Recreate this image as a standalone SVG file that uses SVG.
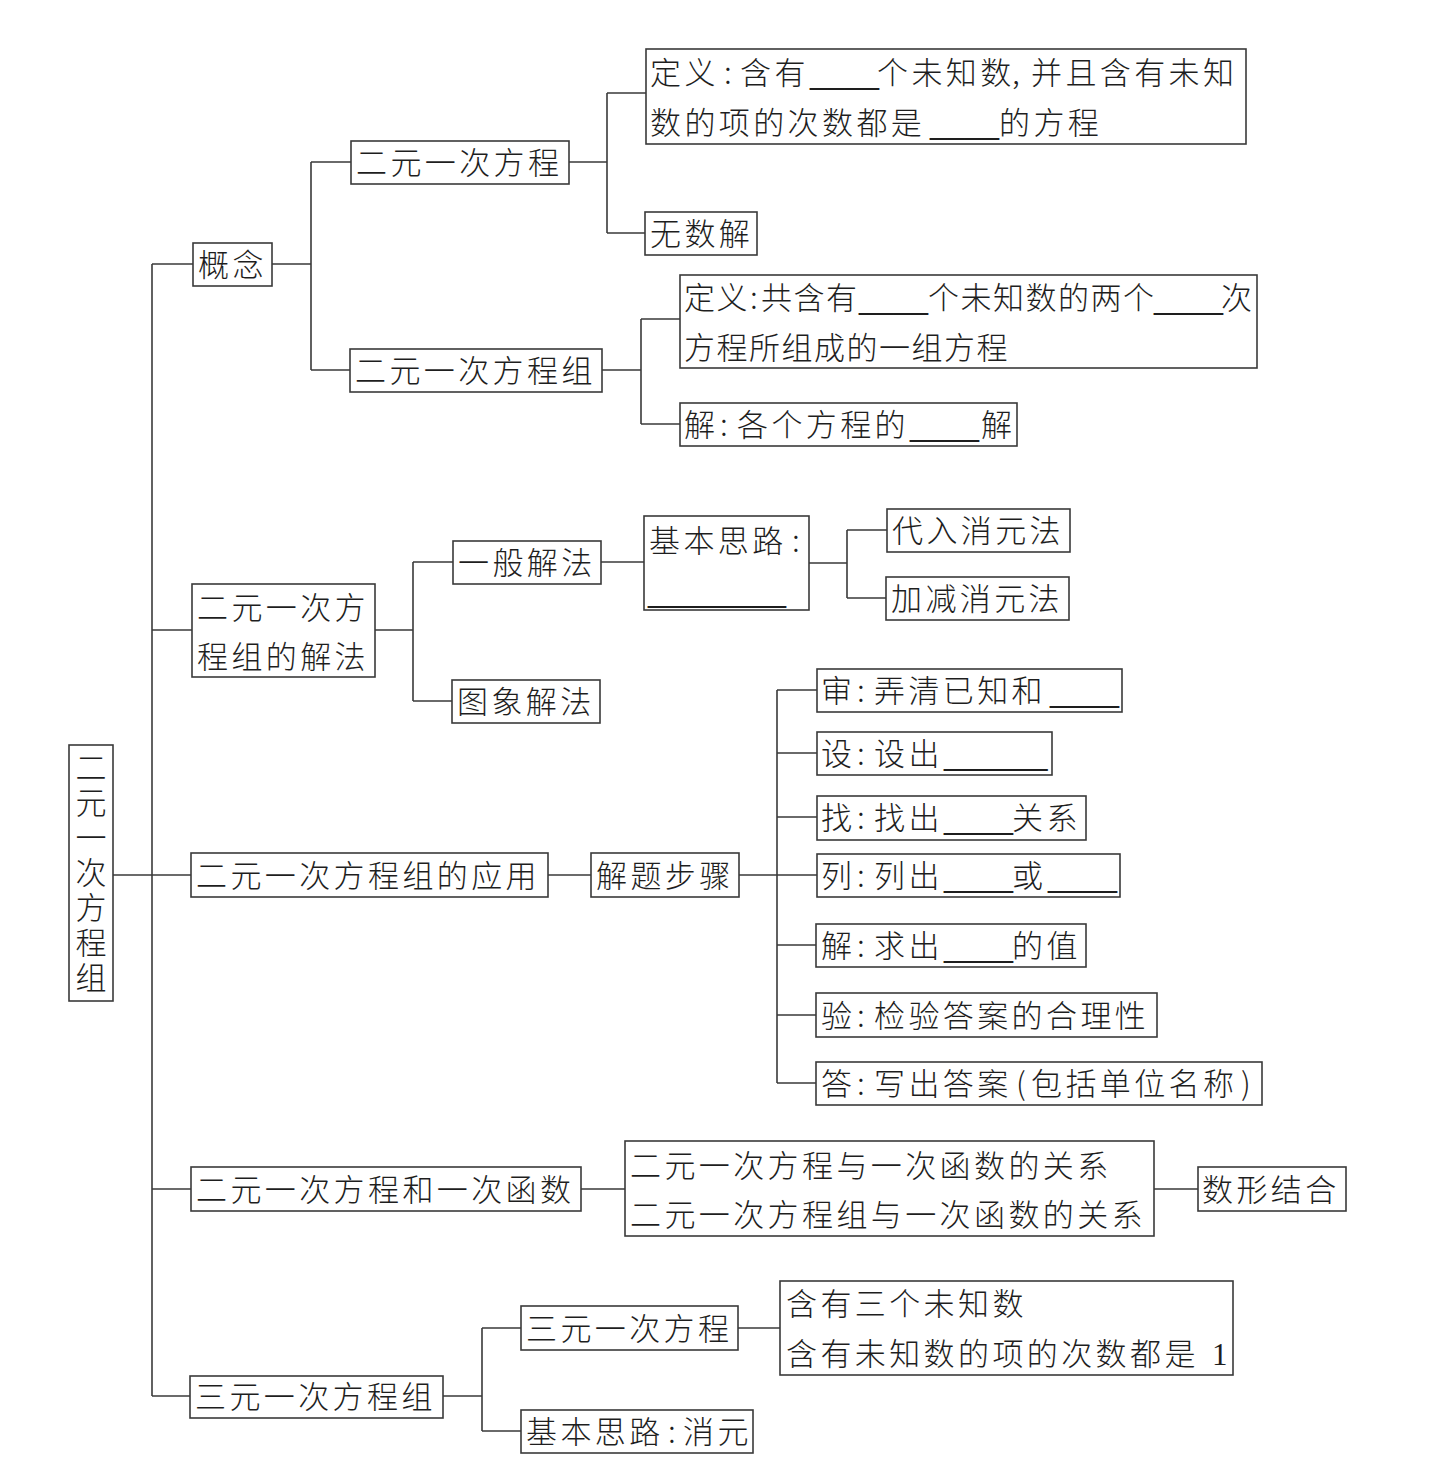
<svg xmlns="http://www.w3.org/2000/svg" width="1447" height="1472" viewBox="0 0 1447 1472">
<style>
.b{fill:#fff;stroke:#3a3a3a;stroke-width:1.6}
.t{font-family:"Noto Sans CJK SC","Noto Sans CJK JP",sans-serif;font-size:31px;font-weight:300;letter-spacing:3.4px;fill:#1e1e1e}
.n{letter-spacing:1.5px}
.u{font-family:"Liberation Sans",sans-serif;letter-spacing:0}
.s{font-family:"Liberation Serif",serif;letter-spacing:0}
.v{writing-mode:vertical-rl;letter-spacing:4px}
.c path{fill:none;stroke:#3a3a3a;stroke-width:1.6}
</style>
<rect width="1447" height="1472" fill="#fff"/>
<g class="c" id="connectors">
<path d="M113,875 H191"/>
<path d="M152,264 V1396"/>
<path d="M152,264 H193"/>
<path d="M152,630 H192"/>
<path d="M152,1189 H191"/>
<path d="M152,1396 H190"/>
<path d="M272,264 H311 M311,162 V370 M311,162 H351 M311,370 H350"/>
<path d="M569,162 H607 M607,93 V233 M607,93 H646 M607,233 H645"/>
<path d="M602,370 H641 M641,319 V424 M641,319 H680 M641,424 H680"/>
<path d="M375,630 H413 M413,562 V701 M413,562 H453 M413,701 H452"/>
<path d="M601,562 H644"/>
<path d="M809,563 H847 M847,530 V598 M847,530 H887 M847,598 H886"/>
<path d="M548,875 H591"/>
<path d="M739,875 H777 M777,690 V1083 M777,690 H817 M777,753 H817 M777,817 H817 M777,875 H817 M777,945 H816 M777,1015 H816 M777,1083 H816"/>
<path d="M581,1189 H625 M1154,1189 H1198"/>
<path d="M443,1396 H482 M482,1328 V1431 M482,1328 H521 M482,1431 H521"/>
<path d="M738,1328 H780"/>
</g>

<g id="root"><rect class="b" x="69" y="745" width="44" height="256"/>
<text class="t v" x="91" y="752">二元一次方程组</text></g>

<g id="n-gainian"><rect class="b" x="193" y="243" width="79" height="43"/><text class="t" x="198" y="276">概念</text></g>
<g id="n-jiefa"><rect class="b" x="192" y="584" width="183" height="93"/><text class="t"><tspan x="197" y="619">二元一次方</tspan><tspan x="197" y="668">程组的解法</tspan></text></g>
<g id="n-yingyong"><rect class="b" x="191" y="853" width="357" height="44"/><text class="t" x="196" y="887">二元一次方程组的应用</text></g>
<g id="n-hanshu"><rect class="b" x="191" y="1167" width="390" height="44"/><text class="t" x="196" y="1201">二元一次方程和一次函数</text></g>
<g id="n-sanyuan"><rect class="b" x="190" y="1376" width="253" height="42"/><text class="t" x="195" y="1408">三元一次方程组</text></g>

<g id="n-fangcheng"><rect class="b" x="351" y="141" width="218" height="43"/><text class="t" x="356" y="174">二元一次方程</text></g>
<g id="n-fangchengzu"><rect class="b" x="350" y="349" width="252" height="43"/><text class="t" x="355" y="382">二元一次方程组</text></g>

<g id="n-def1"><rect class="b" x="646" y="49" width="600" height="95"/>
<text class="t" y="84"><tspan x="650">定义</tspan><tspan x="724">:</tspan><tspan x="740">含有</tspan><tspan class="u" x="810">____</tspan><tspan x="877">个未知数</tspan><tspan x="1012">,</tspan><tspan x="1031">并且含有未知</tspan></text>
<text class="t" y="134"><tspan x="650">数的项的次数都是</tspan><tspan class="u" x="930">____</tspan><tspan x="999">的方程</tspan></text></g>
<g id="n-wushujie"><rect class="b" x="645" y="212" width="112" height="43"/><text class="t" x="650" y="245">无数解</text></g>

<g id="n-def2"><rect class="b" x="680" y="275" width="577" height="93"/>
<text class="t n" y="309"><tspan x="684">定义</tspan><tspan x="750">:</tspan><tspan x="761">共含有</tspan><tspan class="u" x="859">____</tspan><tspan x="928">个未知数的两个</tspan><tspan class="u" x="1154">____</tspan><tspan x="1221">次</tspan></text>
<text class="t n" x="684" y="359">方程所组成的一组方程</text></g>
<g id="n-jie"><rect class="b" x="680" y="403" width="337" height="43"/>
<text class="t" y="436"><tspan x="684">解</tspan><tspan x="720">:</tspan><tspan x="737">各个方程的</tspan><tspan class="u" x="910">____</tspan><tspan x="981">解</tspan></text></g>

<g id="n-yiban"><rect class="b" x="453" y="541" width="148" height="43"/><text class="t" x="458" y="574">一般解法</text></g>
<g id="n-tuxiang"><rect class="b" x="452" y="680" width="148" height="43"/><text class="t" x="457" y="713">图象解法</text></g>
<g id="n-silu"><rect class="b" x="644" y="516" width="165" height="94"/>
<text class="t" y="552"><tspan x="649">基本思路</tspan><tspan x="792">:</tspan></text>
<text class="t u" x="648" y="602">________</text></g>
<g id="n-dairu"><rect class="b" x="887" y="509" width="183" height="43"/><text class="t" x="892" y="542">代入消元法</text></g>
<g id="n-jiajian"><rect class="b" x="886" y="577" width="183" height="43"/><text class="t" x="891" y="610">加减消元法</text></g>

<g id="n-buzhou"><rect class="b" x="591" y="853" width="148" height="44"/><text class="t" x="596" y="887">解题步骤</text></g>
<g id="s-shen"><rect class="b" x="817" y="669" width="305" height="43"/><text class="t" y="702"><tspan x="821">审</tspan><tspan x="857">:</tspan><tspan x="874">弄清已知和</tspan><tspan class="u" x="1050">____</tspan></text></g>
<g id="s-she"><rect class="b" x="817" y="732" width="235" height="43"/><text class="t" y="765"><tspan x="821">设</tspan><tspan x="857">:</tspan><tspan x="874">设出</tspan><tspan class="u" x="944">______</tspan></text></g>
<g id="s-zhao"><rect class="b" x="817" y="796" width="269" height="44"/><text class="t" y="829"><tspan x="821">找</tspan><tspan x="857">:</tspan><tspan x="874">找出</tspan><tspan class="u" x="944">____</tspan><tspan x="1012">关系</tspan></text></g>
<g id="s-lie"><rect class="b" x="817" y="854" width="303" height="43"/><text class="t" y="887"><tspan x="821">列</tspan><tspan x="857">:</tspan><tspan x="874">列出</tspan><tspan class="u" x="944">____</tspan><tspan x="1012">或</tspan><tspan class="u" x="1048">____</tspan></text></g>
<g id="s-jie"><rect class="b" x="816" y="924" width="270" height="43"/><text class="t" y="957"><tspan x="821">解</tspan><tspan x="857">:</tspan><tspan x="874">求出</tspan><tspan class="u" x="944">____</tspan><tspan x="1012">的值</tspan></text></g>
<g id="s-yan"><rect class="b" x="816" y="993" width="341" height="44"/><text class="t" y="1027"><tspan x="821">验</tspan><tspan x="857">:</tspan><tspan x="874">检验答案的合理性</tspan></text></g>
<g id="s-da"><rect class="b" x="816" y="1062" width="446" height="43"/><text class="t" y="1095"><tspan x="821">答</tspan><tspan x="857">:</tspan><tspan x="874">写出答案</tspan><tspan x="1016">(</tspan><tspan x="1031">包括单位名称</tspan><tspan x="1241">)</tspan></text></g>

<g id="n-guanxi"><rect class="b" x="625" y="1141" width="529" height="95"/>
<text class="t"><tspan x="630" y="1177">二元一次方程与一次函数的关系</tspan><tspan x="630" y="1226">二元一次方程组与一次函数的关系</tspan></text></g>
<g id="n-shuxing"><rect class="b" x="1198" y="1167" width="148" height="44"/><text class="t" x="1202" y="1201">数形结合</text></g>

<g id="n-sanyuanfc"><rect class="b" x="521" y="1306" width="217" height="44"/><text class="t" x="526" y="1340">三元一次方程</text></g>
<g id="n-xiaoyuan"><rect class="b" x="521" y="1410" width="232" height="43"/><text class="t" y="1443"><tspan x="526">基本思路</tspan><tspan x="668">:</tspan><tspan x="683">消元</tspan></text></g>
<g id="n-sanyuandef"><rect class="b" x="780" y="1281" width="453" height="94"/>
<text class="t"><tspan x="786" y="1315">含有三个未知数</tspan><tspan x="786" y="1365">含有未知数的项的次数都是</tspan><tspan class="s" x="1212" y="1365">1</tspan></text></g>
</svg>
